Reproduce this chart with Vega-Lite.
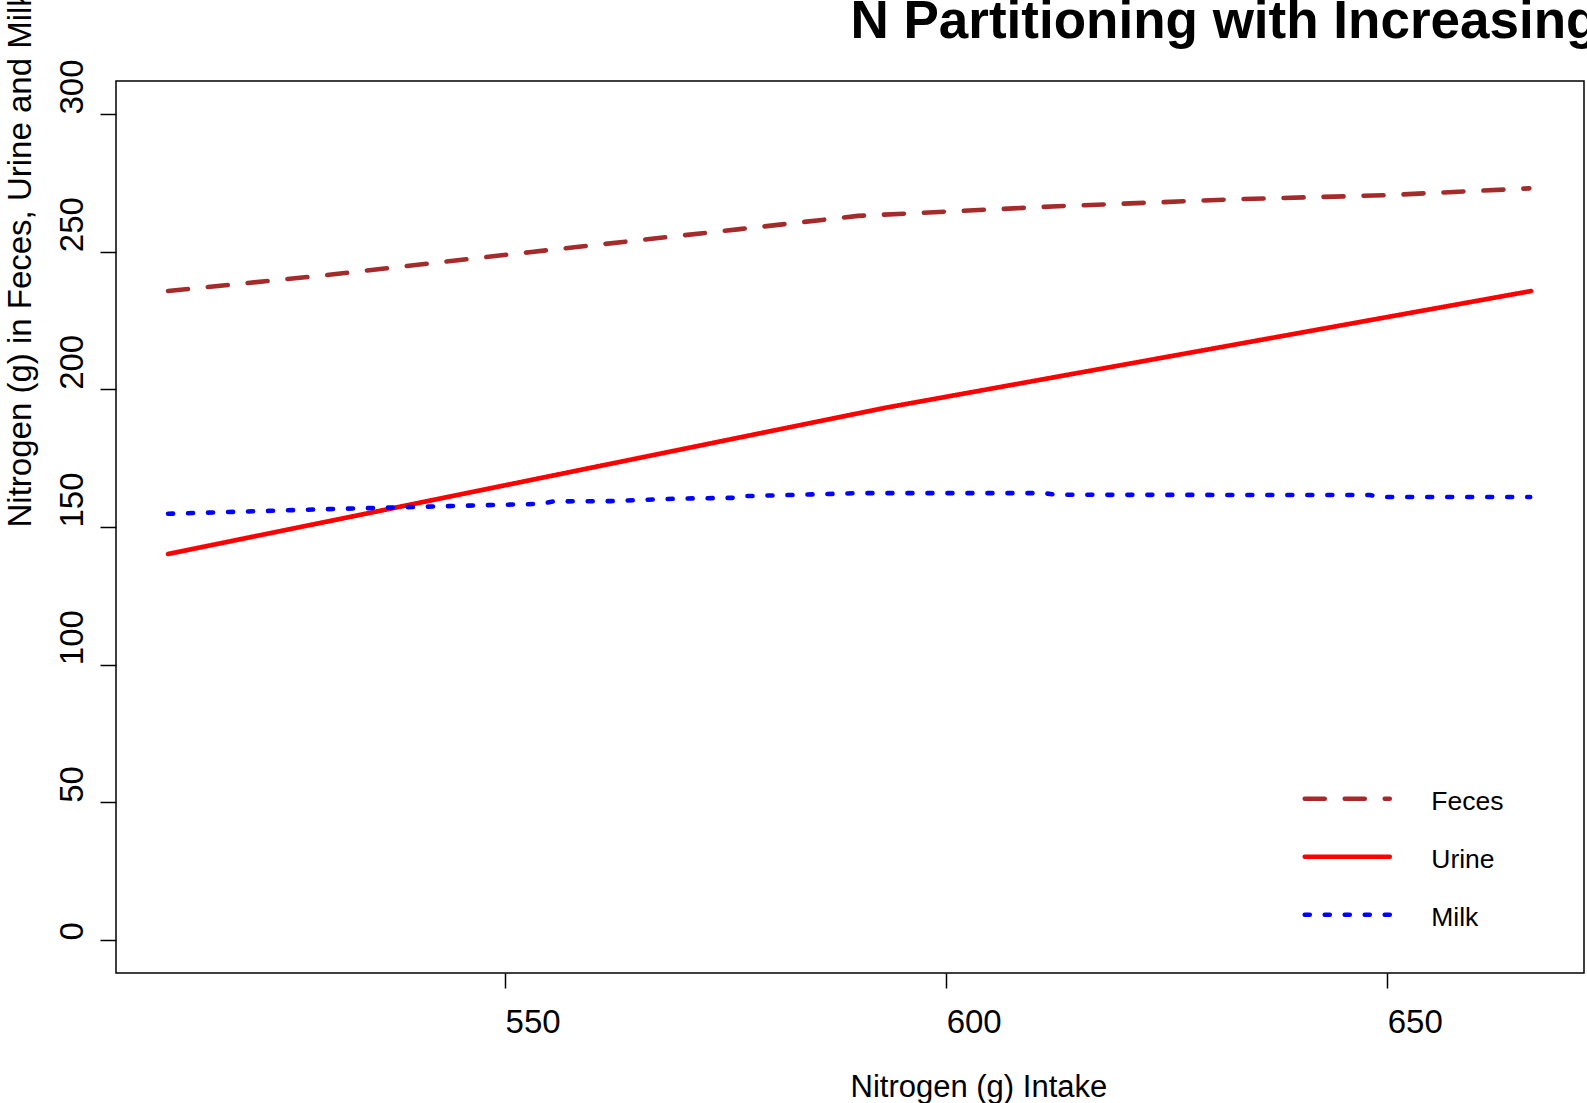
{
  "$schema": "https://vega.github.io/schema/vega-lite/v6.json",
  "width": 1468,
  "height": 892,
  "autosize": {"type": "none"},
  "padding": {"left": 116, "top": 81, "right": 3, "bottom": 130},
  "background": "white",
  "config": {
    "view": {"stroke": "black", "strokeWidth": 1.5},
    "font": "Liberation Sans"
  },
  "data": {
    "values": [
      {"series": "Feces", "intake": 511.8, "n": 235.7},
      {"series": "Feces", "intake": 530.3, "n": 241.7},
      {"series": "Feces", "intake": 553.0, "n": 249.9},
      {"series": "Feces", "intake": 576.6, "n": 258.2},
      {"series": "Feces", "intake": 590.0, "n": 263.0},
      {"series": "Feces", "intake": 612.6, "n": 266.5},
      {"series": "Feces", "intake": 633.2, "n": 269.1},
      {"series": "Feces", "intake": 649.7, "n": 270.5},
      {"series": "Feces", "intake": 666.1, "n": 273.0},
      {"series": "Urine", "intake": 511.8, "n": 140.2},
      {"series": "Urine", "intake": 593.1, "n": 193.3},
      {"series": "Urine", "intake": 666.3, "n": 235.7},
      {"series": "Milk", "intake": 511.8, "n": 154.8},
      {"series": "Milk", "intake": 530.0, "n": 156.5},
      {"series": "Milk", "intake": 554.0, "n": 158.4},
      {"series": "Milk", "intake": 555.5, "n": 159.3},
      {"series": "Milk", "intake": 562.0, "n": 159.4},
      {"series": "Milk", "intake": 569.5, "n": 160.3},
      {"series": "Milk", "intake": 576.0, "n": 160.6},
      {"series": "Milk", "intake": 577.0, "n": 161.2},
      {"series": "Milk", "intake": 583.3, "n": 161.7},
      {"series": "Milk", "intake": 590.0, "n": 162.3},
      {"series": "Milk", "intake": 611.0, "n": 162.3},
      {"series": "Milk", "intake": 612.6, "n": 161.7},
      {"series": "Milk", "intake": 648.0, "n": 161.6},
      {"series": "Milk", "intake": 649.5, "n": 160.9},
      {"series": "Milk", "intake": 666.2, "n": 160.9}
    ]
  },
  "resolve": {"axis": {"x": "independent"}},
  "layer": [
    {
      "mark": {"type": "line", "strokeWidth": 4.6, "strokeCap": "round", "strokeJoin": "round"},
      "encoding": {
        "x": {
          "field": "intake",
          "type": "quantitative",
          "scale": {"domain": [505.9, 672.3], "nice": false, "zero": false},
          "axis": {
            "orient": "bottom",
            "values": [550, 600, 650],
            "title": "Nitrogen (g) Intake",
            "grid": false,
            "domain": false,
            "tickSize": 15,
            "tickColor": "black",
            "tickWidth": 1.5,
            "labelFontSize": 33,
            "labelColor": "black",
            "labelFont": "Liberation Sans",
            "labelAlign": "left",
            "labelBaseline": "alphabetic",
            "labelPadding": 44,
            "labelFlush": false,
            "labelOverlap": false,
            "titleFont": "Liberation Sans",
            "titleFontSize": 31,
            "titleFontWeight": "normal",
            "titleColor": "black",
            "titleX": 734,
            "titleY": 123,
            "titleAlign": "left",
            "titleBaseline": "alphabetic"
          }
        },
        "y": {
          "field": "n",
          "type": "quantitative",
          "scale": {"domain": [-12, 312], "nice": false, "zero": false},
          "axis": {
            "values": [0, 50, 100, 150, 200, 250, 300],
            "title": "Nitrogen (g) in Feces, Urine and Milk",
            "grid": false,
            "domain": false,
            "tickSize": 16,
            "tickColor": "black",
            "tickWidth": 1.5,
            "labelFontSize": 33,
            "labelColor": "black",
            "labelFont": "Liberation Sans",
            "labelAngle": -90,
            "labelAlign": "left",
            "labelBaseline": "alphabetic",
            "labelPadding": 18,
            "labelFlush": false,
            "labelOverlap": false,
            "titleFont": "Liberation Sans",
            "titleFontSize": 33,
            "titleFontWeight": "normal",
            "titleColor": "black",
            "titleAngle": -90,
            "titleX": -86,
            "titleY": 446,
            "titleAlign": "left",
            "titleBaseline": "alphabetic"
          }
        },
        "color": {
          "field": "series",
          "type": "nominal",
          "scale": {"domain": ["Feces", "Urine", "Milk"], "range": ["#A52A2A", "#FF0000", "#0000FF"]},
          "legend": {
            "title": null,
            "orient": "none",
            "legendX": 1218,
            "legendY": 704.5,
            "padding": 0,
            "symbolType": "M-4,0L4,0",
            "symbolSize": 451.6,
            "symbolStrokeWidth": 4.6,
            "symbolOffset": 0,
            "labelOffset": 70.75,
            "labelFontSize": 26.5,
            "labelFont": "Liberation Sans",
            "labelColor": "black",
            "labelBaseline": "middle",
            "rowPadding": 28,
            "encode": {
              "symbols": {"update": {"strokeCap": {"value": "round"}}},
              "labels": {"update": {"dy": {"value": 3}}}
            }
          }
        },
        "strokeDash": {
          "field": "series",
          "type": "nominal",
          "scale": {"domain": ["Feces", "Urine", "Milk"], "range": [[20, 20], [1, 0], [5, 15]]},
          "legend": {
            "title": null,
            "orient": "none",
            "legendX": 1218,
            "legendY": 704.5,
            "padding": 0,
            "symbolType": "M-4,0L4,0",
            "symbolSize": 451.6,
            "symbolStrokeWidth": 4.6,
            "symbolOffset": 0,
            "labelOffset": 70.75,
            "labelFontSize": 26.5,
            "labelFont": "Liberation Sans",
            "labelColor": "black",
            "labelBaseline": "middle",
            "rowPadding": 28,
            "encode": {
              "symbols": {"update": {"strokeCap": {"value": "round"}}},
              "labels": {"update": {"dy": {"value": 3}}}
            }
          }
        }
      }
    },
    {
      "mark": {"type": "point", "opacity": 0},
      "encoding": {
        "x": {
          "field": "intake",
          "type": "quantitative",
          "axis": {
            "orient": "top",
            "title": "N Partitioning with Increasing N Intake",
            "ticks": false,
            "labels": false,
            "domain": false,
            "grid": false,
            "titleFont": "Liberation Sans",
            "titleFontSize": 53,
            "titleFontWeight": "bold",
            "titleColor": "black",
            "titleX": 734,
            "titleY": -43.5,
            "titleAlign": "left",
            "titleBaseline": "alphabetic"
          }
        },
        "y": {"field": "n", "type": "quantitative"}
      }
    }
  ]
}
